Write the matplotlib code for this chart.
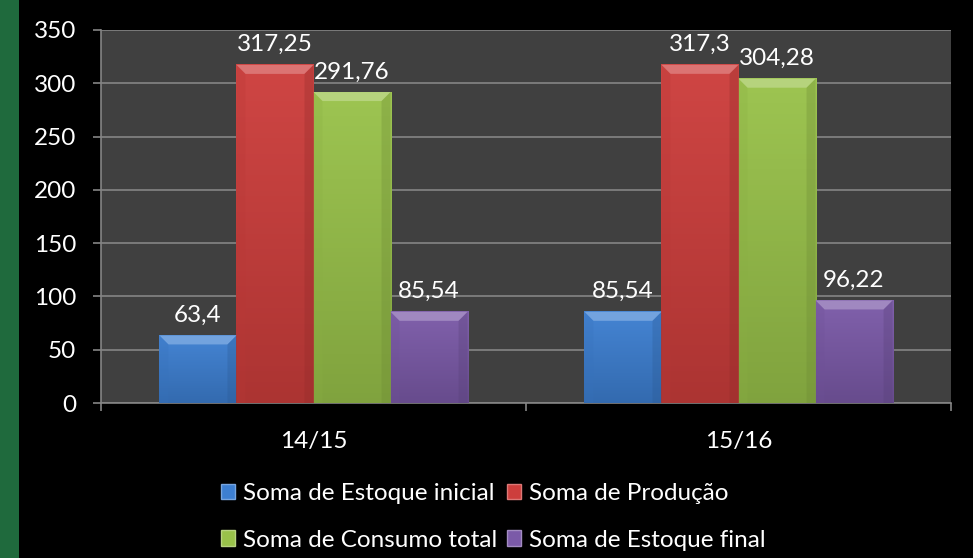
import numpy as np
import matplotlib
matplotlib.use("Agg")
import matplotlib.pyplot as plt
from matplotlib.patches import Rectangle, Polygon, Patch
import matplotlib.colors as mcolors

# data
categories = ["14/15", "15/16"]
series_names = ["Soma de Estoque inicial", "Soma de Produção",
                "Soma de Consumo total", "Soma de Estoque final"]
estoque_inicial = [63.4, 85.54]
producao = [317.25, 317.3]
consumo_total = [291.76, 304.28]
estoque_final = [85.54, 96.22]
value_labels = [["63,4", "85,54"], ["317,25", "317,3"],
                ["291,76", "304,28"], ["85,54", "96,22"]]
y_ticks = [0, 50, 100, 150, 200, 250, 300, 350]

colors = ["#3d7fd1", "#cd3e3c", "#99c24a", "#7b5aa8"]

plt.rcParams['font.family'] = ['Lato', 'DejaVu Sans']
fs = 17.5

fig = plt.figure(figsize=(9.73, 5.58), dpi=100, facecolor="black")
# green strip at the left border
fig.patches.append(Rectangle((0, 0), 19 / 973, 1, transform=fig.transFigure,
                             facecolor="#1f6a3d", edgecolor="none", zorder=0))

ax = fig.add_axes([101 / 973, 155 / 558, 850 / 973, 373 / 558])
ax.set_facecolor("#404040")

series = [estoque_inicial, producao, consumo_total, estoque_final]
x = np.arange(len(categories))
group_w = 0.725
bw = group_w / len(series)

ax.set_xlim(-0.5, len(categories) - 0.5)
ax.set_ylim(0, 350)


def shade(c, f):
    r, g, b = mcolors.to_rgb(c)
    if f >= 0:
        return (r + (1 - r) * f, g + (1 - g) * f, b + (1 - b) * f)
    return (r * (1 + f), g * (1 + f), b * (1 + f))


bev_x = 9 / 425.0
bev_y = 9 * 350 / 373.0
for i, vals in enumerate(series):
    xs = x - group_w / 2 + bw * (i + 0.5)
    bars = ax.bar(xs, vals, width=bw, color=colors[i], edgecolor="none", zorder=3)
    for b, lab in zip(bars, value_labels[i]):
        x0, w, h = b.get_x(), b.get_width(), b.get_height()
        # vertical gradient inside the bar
        grad = np.linspace(0, 1, 64).reshape(-1, 1)
        cmap = mcolors.LinearSegmentedColormap.from_list(
            "g", [shade(colors[i], -0.16), shade(colors[i], 0.04)])
        ax.imshow(grad, extent=[x0, x0 + w, 0, h], origin="lower", cmap=cmap,
                  aspect="auto", zorder=3.5)
        # bevel: light top, faint darker sides
        ax.add_patch(Polygon([(x0, h), (x0 + w, h), (x0 + w - bev_x, h - bev_y),
                              (x0 + bev_x, h - bev_y)], closed=True,
                             facecolor=shade(colors[i], 0.28), edgecolor="none", zorder=4))
        ax.add_patch(Polygon([(x0, h), (x0 + bev_x, h - bev_y), (x0 + bev_x, 0), (x0, 0)],
                             closed=True, facecolor=shade(colors[i], -0.1),
                             edgecolor="none", alpha=0.25, zorder=4))
        ax.add_patch(Polygon([(x0 + w, h), (x0 + w - bev_x, h - bev_y),
                              (x0 + w - bev_x, 0), (x0 + w, 0)],
                             closed=True, facecolor=shade(colors[i], -0.3),
                             edgecolor="none", alpha=0.3, zorder=4))
        ax.text(x0 + w / 2, h + 9, lab, ha="center", va="bottom",
                color="white", fontsize=fs, zorder=5)

ax.set_yticks(y_ticks)
ax.set_yticklabels([str(t) for t in y_ticks])
ax.yaxis.grid(True, color="#858585", linewidth=1.2, zorder=1)
ax.set_axisbelow(True)

ax.set_xticks(x)
ax.set_xticklabels(categories)
ax.set_xticks(np.arange(-0.5, len(categories)), minor=True)
ax.tick_params(axis="x", which="major", length=0, pad=20, labelsize=fs, colors="white")
ax.tick_params(axis="x", which="minor", length=6, width=1.2, color="#858585")
ax.tick_params(axis="y", length=6, width=1.2, color="#858585", pad=12,
               labelsize=fs, labelcolor="white")

for s in ["top", "right"]:
    ax.spines[s].set_visible(False)
for s in ["left", "bottom"]:
    ax.spines[s].set_color("#858585")
    ax.spines[s].set_linewidth(1.2)

handles = [Patch(facecolor=colors[k], edgecolor=shade(colors[k], 0.3)) for k in [0, 2, 1, 3]]
labels = [series_names[k] for k in [0, 2, 1, 3]]
leg = fig.legend(handles, labels, ncol=2, loc="center", bbox_to_anchor=(493 / 973, 1 - 517 / 558),
                 frameon=False, fontsize=fs, labelcolor="white", handlelength=0.6,
                 handleheight=0.6, handletextpad=0.3, columnspacing=0.4, labelspacing=1.05)

fig.savefig("out.png", dpi=100, facecolor="black")
